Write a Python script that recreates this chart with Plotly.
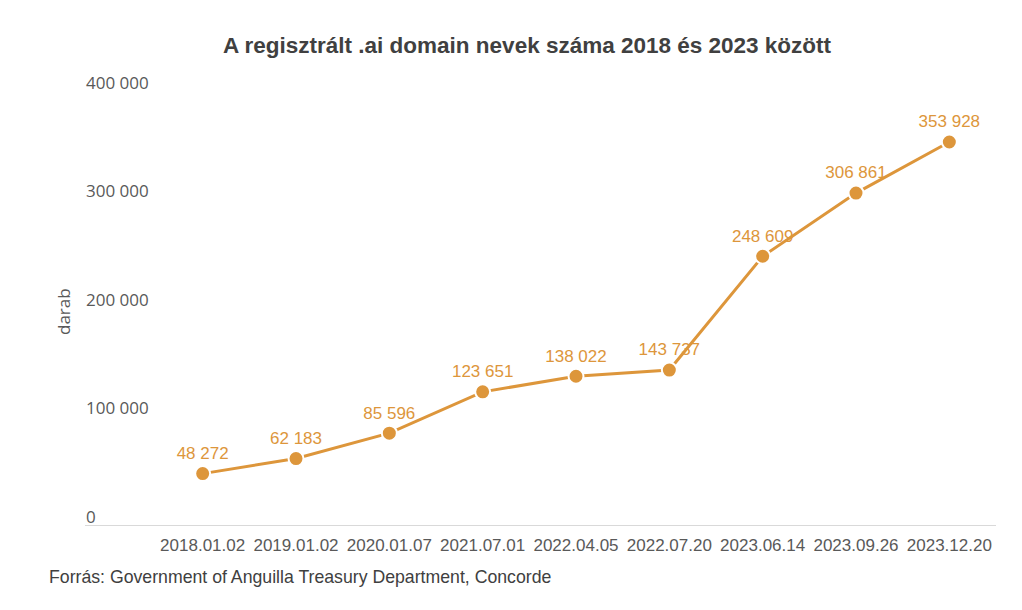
import plotly.graph_objects as go

dates = ["2018.01.02", "2019.01.02", "2020.01.07", "2021.07.01", "2022.04.05",
         "2022.07.20", "2023.06.14", "2023.09.26", "2023.12.20"]
counts = [48272, 62183, 85596, 123651, 138022, 143737, 248609, 306861, 353928]
y_ticks = [0, 100000, 200000, 300000, 400000]

ORANGE = "#DD963B"
GREY = "#595959"

def fmt(v):
    return f"{v:,}".replace(",", " ")

fig = go.Figure()
fig.add_trace(go.Scatter(
    x=dates, y=counts, mode="lines+markers+text",
    line=dict(color=ORANGE, width=3),
    marker=dict(size=15, color=ORANGE, line=dict(color="white", width=2)),
    text=[fmt(v) for v in counts], textposition="top center",
    textfont=dict(family="Liberation Sans, Arial", size=17, color=ORANGE),
    cliponaxis=False, showlegend=False,
))

W, H = 1022, 610
L, R, T, B = 156, 26, 92, 84
pw = W - L - R
ph = H - T - B

def px(x):
    return (x - L) / pw

def py(y):
    return (H - B - y) / ph

fig.update_layout(
    width=W, height=H,
    margin=dict(l=L, r=R, t=T, b=B),
    paper_bgcolor="white", plot_bgcolor="white",
    title=dict(text="<b>A regisztrált .ai domain nevek száma 2018 és 2023 között</b>",
               x=527 / W, xanchor="center", xref="container",
               y=1 - 45 / H, yanchor="middle", yref="container",
               font=dict(family="Liberation Sans, Arial", size=22.5, color="#404040")),
    xaxis=dict(type="category", range=[-0.5, len(dates) - 0.5],
               showgrid=False, showline=False, zeroline=False, ticks="",
               ticklabelstandoff=7,
               tickfont=dict(family="Liberation Sans, Arial", size=17, color=GREY),
               fixedrange=True),
    yaxis=dict(range=[0, 400000], showgrid=False, showline=False, zeroline=False,
               showticklabels=False, ticks="", fixedrange=True),
)

# baseline
fig.add_shape(type="line", xref="paper", yref="y", x0=px(85), x1=px(996), y0=0, y1=0,
              line=dict(color="#D9D9D9", width=2), layer="below")

# left-aligned y tick labels
for v in y_ticks:
    fig.add_annotation(xref="paper", yref="y", x=px(84), y=v, xanchor="left",
                       yanchor="middle", yshift=10, text=fmt(v), showarrow=False,
                       font=dict(family="Open Sans", size=17, color=GREY))

fig.add_annotation(xref="paper", yref="paper", x=px(63), y=py(312), xanchor="center",
                   yanchor="middle", text="darab", textangle=-90, showarrow=False,
                   font=dict(family="Open Sans", size=17, color=GREY))

fig.add_annotation(xref="paper", yref="paper", x=px(47), y=py(577),
                   xanchor="left", yanchor="middle",
                   text="Forrás: Government of Anguilla Treasury Department, Concorde",
                   showarrow=False,
                   font=dict(family="Liberation Sans, Arial", size=17.7, color="#404040"))

fig.write_html("out.html")
